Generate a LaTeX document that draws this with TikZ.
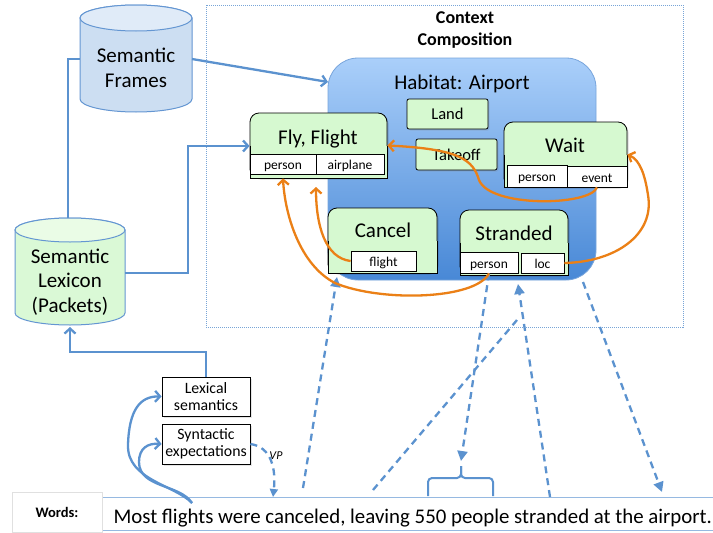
\documentclass[tikz,border=0pt]{standalone}
\usepackage{fontspec}
\setmainfont{Carlito}
\usetikzlibrary{arrows.meta,fit,shadows}
\definecolor{lblue}{RGB}{91,146,207}
\definecolor{cylb}{RGB}{100,150,210}
\definecolor{framesfill}{RGB}{204,222,242}
\definecolor{framestop}{RGB}{224,235,248}
\definecolor{lexfill}{RGB}{218,249,214}
\definecolor{lextop}{RGB}{234,252,230}
\definecolor{habtop}{RGB}{170,207,250}
\definecolor{habbot}{RGB}{72,136,214}
\definecolor{habdraw}{RGB}{120,165,220}
\definecolor{gfill}{RGB}{214,249,208}
\definecolor{ctxc}{RGB}{120,165,215}
\definecolor{sentb}{RGB}{150,185,225}
\definecolor{orng}{RGB}{235,128,22}
\newcommand\fsz[2]{\fontsize{#1}{#2}\selectfont}
% frame box with rounded top corners and square bottom corners
\newcommand\frm[5]{%
  \fill[black,opacity=0.15,rounded corners=9pt] ({#2+1.5},{#3+1.5}) rectangle ({#4+1.5},{#5+1.5});
  \node[fit={(#2,#3) (#4,#5)}, inner sep=0pt, draw=black, fill=gfill, line width=0.8pt, rounded corners=9pt] (#1) {};
  \fill[gfill] (#2,{(#3+#5)/2}) rectangle (#4,#5);
  \draw[line width=0.8pt] (#2,{(#3+#5)/2}) -- (#2,#5) -- (#4,#5) -- (#4,{(#3+#5)/2});
}
% vertical cylinder: x1 x2 ytop ybot ry fill topfill
\newcommand\cyl[7]{%
  \path[fill=#6, draw=cylb, line width=1pt] (#1,#3) -- (#1,#4)
     arc[start angle=180,end angle=0,x radius={(#2-#1)/2},y radius=#5] -- (#2,#3)
     arc[start angle=0,end angle=-180,x radius={(#2-#1)/2},y radius=#5] -- cycle;
  \path[fill=#7, draw=cylb, line width=1pt] ({(#1+#2)/2},#3) ellipse[x radius={(#2-#1)/2}, y radius=#5];
}
\begin{document}
\begin{tikzpicture}[x=1pt,y=-1pt,
  bl/.style={draw=lblue, line width=2.3pt},
  barb/.style={-{Straight Barb[length=5pt,width=11pt]}},
  dashblue/.style={draw=lblue, line width=2.3pt, dash pattern=on 7pt off 5pt},
  tri/.style={-{Triangle[length=10pt,width=10pt]}},
  orline/.style={draw=orng, line width=2.3pt, -{Straight Barb[length=5pt,width=11pt]}},
  slot/.style={draw=black, fill=white, line width=0.8pt, inner sep=0pt, text height=11pt, text depth=0pt, font=\fsz{13.5}{16}},
  ttl/.style={anchor=base, font=\fsz{21}{25}},
  lbox/.style={draw=black, fill=gfill, line width=0.8pt, rounded corners=2pt, inner sep=0pt,
     font=\fsz{16.5}{19}, drop shadow={opacity=0.2, shadow xshift=1.5pt, shadow yshift=-1.5pt}},
  pbox/.style={draw=black, fill=white, line width=0.8pt, inner sep=0pt, align=center,
     font=\fsz{15.8}{16.5}, drop shadow={opacity=0.2, shadow xshift=1.5pt, shadow yshift=-1.5pt}}
]
\useasboundingbox (0,0) rectangle (713,533);
\fill[white] (0,0) rectangle (713,533);

% context composition area
\draw[draw=ctxc, line width=0.8pt, dash pattern=on 1pt off 1pt] (206,5) rectangle (683,327);
\node[align=center, font=\bfseries\fsz{18}{22}] (ctxt) at (465,30) {Context\\Composition};

% cylinders
\cyl{80}{192}{18}{99}{13}{framesfill}{framestop}
\node[align=center, font=\fsz{21}{25}] (frames) at (136,68) {Semantic\\Frames};
\cyl{15}{125}{230}{313}{12}{lexfill}{lextop}
\node[align=center, font=\fsz{21}{24.5}] (lexicon) at (70,282) {Semantic\\Lexicon\\(Packets)};
\coordinate (framesW) at (80,59);
\coordinate (framesE) at (192,59);
\coordinate (lexN) at (68,218);
\coordinate (lexE) at (125,273);
\coordinate (lexS) at (70,327);

% habitat
\node[fit={(328,58) (596,280)}, inner sep=0pt, rounded corners=30pt, top color=habtop, bottom color=habbot, draw=habdraw, line width=0.8pt] (hab) {};
\node[ttl] (habt) at (462,89) {Habitat: Airport};
\coordinate (habIn) at (328,82);

\node[lbox, minimum width=81pt, minimum height=30pt] (land) at (447.5,114) {Land};
\node[lbox, minimum width=81pt, minimum height=31pt] (takeoff) at (456.5,154.5) {Takeoff};

% Fly, Flight
\frm{fly}{250}{113}{387}{178}
\node[slot, minimum width=66pt, minimum height=20pt] (flyP) at (283,164) {person};
\node[slot, minimum width=68pt, minimum height=20pt] (flyA) at (350,164) {airplane};
\node[ttl] (flyT) at (318,144) {Fly, Flight};
\coordinate (flyB) at (316,187);

% Wait
\frm{wait}{504}{122}{627}{187}
\node[slot, minimum width=60pt, minimum height=22pt] (waitP) at (537,176) {person};
\node[slot, minimum width=60pt, minimum height=21pt] (waitE) at (597,176.5) {event};
\node[ttl] (waitT) at (565,152) {Wait};

% Cancel
\frm{cancel}{328}{208}{437}{273}
\node[slot, minimum width=65pt, minimum height=20pt] (cancelF) at (383.5,261) {flight};
\node[ttl] (cancelT) at (383,237) {Cancel};

% Stranded
\frm{strand}{460}{210}{568}{275}
\node[slot, minimum width=58pt, minimum height=21pt] (strP) at (489,262.5) {person};
\node[slot, minimum width=43pt, minimum height=20pt] (strL) at (542.5,263) {loc};
\node[ttl] (strT) at (514,240) {Stranded};

% blue solid connectors
\draw[bl] (lexN) -- (68,59) -- (framesW);
\draw[bl, barb] (framesE) -- (habIn);
\draw[bl, barb] (lexE) -- (188,273) -- (188,146) -- (fly.west |- 0,146);

% lexical / syntactic boxes
\node[pbox, minimum width=88pt, minimum height=39pt] (lexsem) at (206,396.5) {Lexical\\semantics};
\node[pbox, minimum width=88pt, minimum height=40pt] (syn) at (206,444) {Syntactic\\expectations};
\draw[bl, barb] (lexsem.north) -- (206,352) -- (70,352) -- (lexS);

% words / sentence
\draw[draw=sentb, line width=1pt] (102,497) rectangle (730,530);
\node[anchor=base west, font=\fsz{20.85}{24}] (sent) at (110,523.5) {Most flights were canceled, leaving 550 people stranded at the airport.};
\node[draw=black!12, fill=white, minimum width=90pt, minimum height=40pt, inner sep=0pt,
      font=\bfseries\fsz{14.5}{17}, drop shadow={opacity=0.2, shadow xshift=1pt, shadow yshift=-1pt}] (words) at (57,512) {Words:};

% swoosh arrows
\coordinate (swoosh) at (192,503);
\draw[bl, barb] (swoosh) .. controls (175,485) and (127,480) .. (128,445) .. controls (129,410) and (140,396) .. (lexsem.west);
\draw[bl, barb] (swoosh) .. controls (180,484) and (139,488) .. (139,462) .. controls (139,448) and (148,443) .. (syn.west);

% VP
\coordinate (vpend) at (273,497);
\draw[dashblue, -{Triangle[length=8pt,width=8pt]}] (syn.east) .. controls (272,447) and (276,470) .. (vpend);
\node[font=\itshape\fsz{12}{14}] (vp) at (276,456) {VP};

% dashed word links
\coordinate (wCancel) at (303,488);
\coordinate (wLeave) at (373,490);
\coordinate (wLeaveEnd) at (517,320);
\coordinate (wStr) at (550,497);
\coordinate (wPeople) at (461,461);
\coordinate (wAirport) at (662,492);
\coordinate (cancelIn) at (337,277);
\coordinate (strIn) at (518,284);
\coordinate (habOut) at (583,282);
\draw[dashblue, tri] (wCancel) -- (cancelIn);
\draw[dashblue] (wLeave) -- (wLeaveEnd);
\draw[dashblue, tri] (wStr) -- (strIn);
\draw[dashblue, tri] (strP.south) -- (wPeople);
\draw[dashblue, tri] (habOut) -- (wAirport);

% brace under arrow
\draw[draw=lblue, line width=2pt, rounded corners=4pt] (428,496) -- (428,478) -- (461,478) -- (461,466);
\draw[draw=lblue, line width=2pt, rounded corners=4pt] (461,466) -- (461,478) -- (493,478) -- (493,496);

% orange role links
\draw[orline] (waitE.south) .. controls (590,206) and (490,208) .. (479,180) .. controls (473,160) and (460,149) .. (fly.east);
\draw[orline] (strL.east) .. controls (615,262) and (655,235) .. (648,195) .. controls (645,175) and (640,160) .. (wait.east);
\draw[orline] (strP.south) .. controls (475,300) and (380,302) .. (335,283) .. controls (300,265) and (285,215) .. (fly.south -| flyP.south);
\draw[orline] (cancelF.west) .. controls (325,258) and (316,225) .. (flyB);
\end{tikzpicture}
\end{document}
